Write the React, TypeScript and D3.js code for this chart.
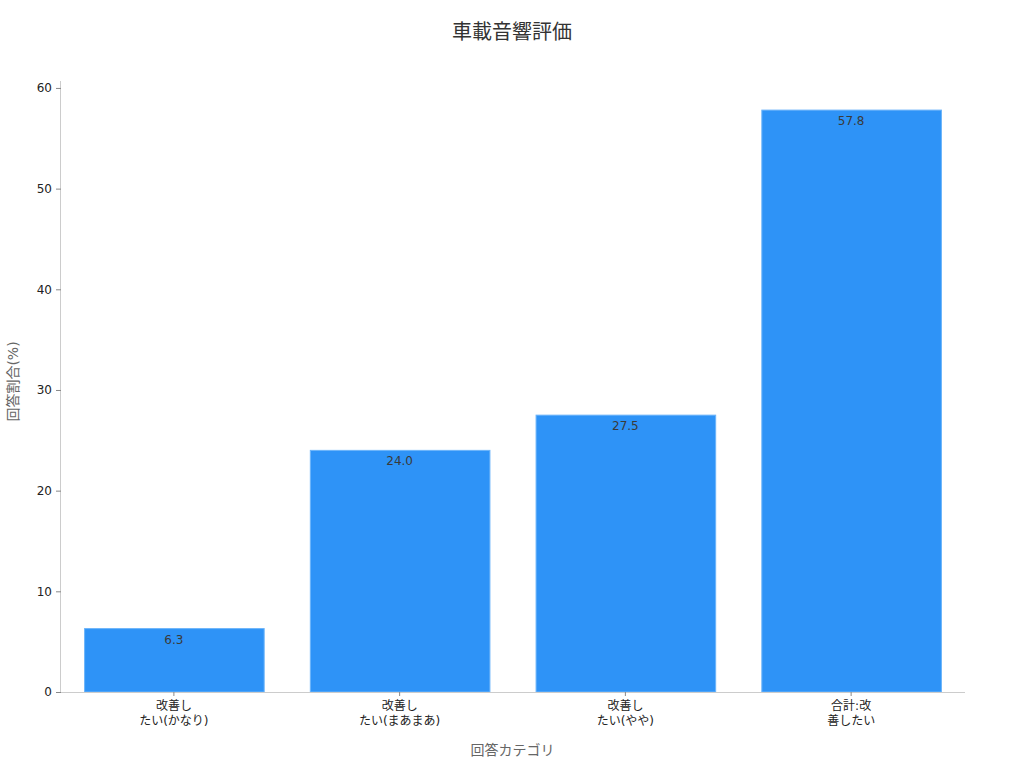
import React, { useRef, useEffect } from 'react';
import * as d3 from 'd3';

// Chart data
const categories = ['かなり', 'まあまあ', 'やや', '合計'];
const categoryLabels = [
  ['改善し', 'たい(かなり)'],
  ['改善し', 'たい(まあまあ)'],
  ['改善し', 'たい(やや)'],
  ['合計:改', '善したい'],
];
const values = [6.3, 24.0, 27.5, 57.8];
const yTicks = [0, 10, 20, 30, 40, 50, 60];

const FONT = '"DejaVu Sans", "Noto Sans CJK JP", sans-serif';

const App: React.FC = () => {
  const svgRef = useRef<SVGSVGElement>(null);
  const width = 1024;
  const height = 768;

  useEffect(() => {
    const svg = d3.select(svgRef.current);
    svg.selectAll('*').remove();

    const margin = { top: 81, right: 60, bottom: 76, left: 61 };
    const innerWidth = width - margin.left - margin.right;
    const innerHeight = height - margin.top - margin.bottom;

    const xScale = d3.scaleBand<string>()
      .domain(categories)
      .range([0, innerWidth])
      .paddingInner(0.2)
      .paddingOuter(0.1);

    const yScale = d3.scaleLinear()
      .domain([0, d3.max(values)! * 1.05])
      .range([innerHeight, 0]);

    const g = svg.append('g')
      .attr('transform', `translate(${margin.left},${margin.top})`);

    // Bars
    g.selectAll('.bar')
      .data(values)
      .enter()
      .append('rect')
      .attr('class', 'bar')
      .attr('x', (_, i) => xScale(categories[i])! + 1)
      .attr('y', d => yScale(d))
      .attr('width', xScale.bandwidth() - 1)
      .attr('height', d => innerHeight - yScale(d))
      .attr('fill', '#2e93f7')
      .attr('stroke', '#6cb4fa')
      .attr('stroke-width', 1);

    // Value labels
    g.selectAll('.value-label')
      .data(values)
      .enter()
      .append('text')
      .attr('class', 'value-label')
      .attr('x', (_, i) => xScale(categories[i])! + xScale.bandwidth() / 2)
      .attr('y', d => yScale(d) + 15)
      .attr('text-anchor', 'middle')
      .style('font-family', FONT)
      .style('font-size', '12px')
      .style('fill', '#3a3a3a')
      .text(d => d.toFixed(1));

    // X axis
    const xAxis = g.append('g')
      .attr('transform', `translate(0, ${innerHeight})`)
      .call(d3.axisBottom(xScale).tickSize(4).tickFormat(() => ''));
    xAxis.select('.domain').attr('stroke', '#ccc').attr('d', `M-1,0.5H${innerWidth + 1}`);
    xAxis.selectAll('.tick line').attr('stroke', '#888');

    xAxis.selectAll<SVGGElement, string>('.tick')
      .each(function (d) {
        const i = categories.indexOf(d);
        const t = d3.select(this).append('text')
          .attr('y', 18)
          .attr('text-anchor', 'middle')
          .style('font-family', FONT)
          .style('font-size', '12px')
          .style('fill', '#222');
        categoryLabels[i].forEach((line, j) => {
          t.append('tspan').attr('x', 0).attr('dy', j === 0 ? 0 : 15).text(line);
        });
      });

    // Y axis
    const yAxis = g.append('g')
      .call(d3.axisLeft(yScale).tickValues(yTicks).tickSize(5).tickPadding(4));
    yAxis.select('.domain').attr('stroke', '#ccc').attr('d', `M-0.5,${innerHeight}V0`);
    yAxis.selectAll('.tick line').attr('stroke', '#888');
    yAxis.selectAll('.tick text')
      .style('font-family', FONT)
      .style('font-size', '12px')
      .style('fill', '#222');

    // Axis titles
    svg.append('text')
      .attr('x', margin.left + innerWidth / 2)
      .attr('y', 755)
      .attr('text-anchor', 'middle')
      .style('font-family', FONT)
      .style('font-size', '14px')
      .style('fill', '#666')
      .text('回答カテゴリ');

    svg.append('text')
      .attr('transform', 'rotate(-90)')
      .attr('x', -(margin.top + innerHeight / 2) + 5)
      .attr('y', 18)
      .attr('text-anchor', 'middle')
      .style('font-family', FONT)
      .style('font-size', '14px')
      .style('fill', '#666')
      .text('回答割合(%)');

    // Title
    svg.append('text')
      .attr('x', width / 2)
      .attr('y', 39)
      .attr('text-anchor', 'middle')
      .style('font-family', FONT)
      .style('font-size', '20px')
      .style('fill', '#333')
      .text('車載音響評価');
  }, []);

  return (
    <svg
      ref={svgRef}
      width={width}
      height={height}
      style={{ position: 'absolute', left: 0, top: 0, background: '#fff' }}
    />
  );
};

export default App;
